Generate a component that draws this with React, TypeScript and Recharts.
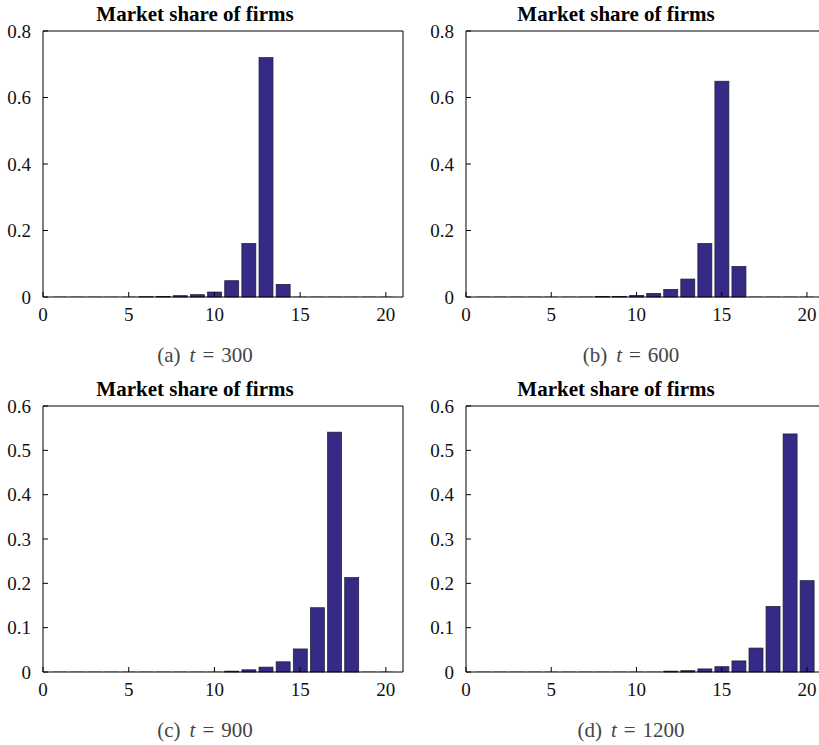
import React from "react";
import { BarChart, Bar, XAxis, YAxis } from "recharts";

// firm index 1..20
const firms = [1, 2, 3, 4, 5, 6, 7, 8, 9, 10, 11, 12, 13, 14, 15, 16, 17, 18, 19, 20];

// market share per firm
const shareT300 = [0.0001, 0.0002, 0.0003, 0.0004, 0.0005, 0.001, 0.002, 0.004, 0.007, 0.015, 0.049, 0.161, 0.72, 0.038, 0, 0, 0, 0, 0, 0];
const shareT600 = [0.0001, 0.0001, 0.0001, 0.0002, 0.0003, 0.0004, 0.0006, 0.002, 0.002, 0.005, 0.011, 0.023, 0.054, 0.161, 0.649, 0.092, 0, 0, 0, 0];
const shareT900 = [0, 0, 0, 0, 0, 0, 0, 0, 0, 0.0005, 0.002, 0.005, 0.011, 0.023, 0.052, 0.145, 0.541, 0.213, 0, 0];
const shareT1200 = [0, 0, 0, 0, 0, 0, 0, 0, 0, 0, 0, 0.002, 0.003, 0.007, 0.012, 0.025, 0.054, 0.148, 0.537, 0.206];

const xTicks = [0, 5, 10, 15, 20];
const yTicksTop = [0, 0.2, 0.4, 0.6, 0.8];
const yTicksBottom = [0, 0.1, 0.2, 0.3, 0.4, 0.5, 0.6];

const FONT = "'Liberation Serif', 'DejaVu Serif', serif";
const BAR_FILL = "#352A86";

function BarShape(props: any) {
  const { x, y, width, height } = props;
  if (!(height > 0.3)) {
    const base = y + (height || 0);
    return <line x1={x} x2={x + width} y1={base - 0.5} y2={base - 0.5} stroke="#c4c4c4" strokeWidth={1} />;
  }
  return <rect x={x} y={y} width={width} height={height} fill={BAR_FILL} stroke="#1d1d30" strokeWidth={0.7} />;
}

type PanelProps = {
  shares: number[];
  yMax: number;
  yTicks: number[];
  left: number;
  top: number;
  letter: string;
  time: string;
  rightMargin: number;
};

function Panel({ shares, yMax, yTicks, left, top, letter, time, rightMargin }: PanelProps) {
  const data = firms.map((f, i) => ({ firm: f, share: shares[i] }));
  const tickStyle = { fontFamily: FONT, fontSize: 19, fill: "#111" };
  const isRight = left > 0;
  return (
    <div style={{ position: "absolute", left, top, width: 410, height: 370 }}>
      <div
        style={{
          position: "absolute",
          left: isRight ? 43 : 45,
          top: 2,
          width: 300,
          textAlign: "center",
          fontFamily: FONT,
          fontWeight: "bold",
          fontSize: 21,
          color: "#000",
          lineHeight: "24px",
        }}
      >
        Market share of firms
      </div>
      <BarChart
        width={410}
        height={330}
        data={data}
        barCategoryGap="10%"
        margin={{ top: 30, right: rightMargin, left: 0, bottom: 0 }}
      >
        <XAxis
          dataKey="firm"
          type="number"
          domain={[0, 21]}
          ticks={xTicks}
          interval={0}
          height={33}
          tickSize={-5}
          tickMargin={16}
          tick={tickStyle}
          stroke="#000"
          axisLine={{ stroke: "#000" }}
          tickLine={{ stroke: "#000" }}
        />
        <XAxis
          xAxisId="top"
          orientation="top"
          dataKey="firm"
          type="number"
          domain={[0, 21]}
          ticks={xTicks}
          height={1}
          tickSize={-5}
          tick={false}
          axisLine={{ stroke: "#000" }}
          tickLine={{ stroke: "#000" }}
        />
        <YAxis
          type="number"
          domain={[0, yMax]}
          ticks={yTicks}
          interval={0}
          width={43}
          tickSize={-5}
          tickMargin={17}
          tick={tickStyle}
          tickFormatter={(v: number) => String(v)}
          axisLine={{ stroke: "#000" }}
          tickLine={{ stroke: "#000" }}
        />
        <YAxis
          yAxisId="right"
          orientation="right"
          type="number"
          domain={[0, yMax]}
          ticks={yTicks}
          width={1}
          tickSize={-5}
          tick={false}
          axisLine={{ stroke: "#000" }}
          tickLine={{ stroke: "#000" }}
        />
        <Bar dataKey="share" shape={BarShape} isAnimationActive={false} />
      </BarChart>
      <div
        style={{
          position: "absolute",
          left: isRight ? 108 : 105,
          top: 342,
          width: 200,
          textAlign: "center",
          fontFamily: FONT,
          fontSize: 21,
          color: "#444",
          lineHeight: "26px",
          whiteSpace: "nowrap",
        }}
      >
        ({letter})<i style={{ marginLeft: 9 }}>t</i>
        <span style={{ margin: "0 7px" }}>=</span>
        {time}
      </div>
    </div>
  );
}

export default function App() {
  return (
    <div
      style={{
        position: "absolute",
        left: 0,
        top: 0,
        width: 819,
        height: 745,
        overflow: "hidden",
        background: "#fff",
      }}
    >
      <Panel shares={shareT300} yMax={0.8} yTicks={yTicksTop} left={0} top={0} letter="a" time="300" rightMargin={6} />
      <Panel shares={shareT600} yMax={0.8} yTicks={yTicksTop} left={423} top={0} letter="b" time="600" rightMargin={8} />
      <Panel shares={shareT900} yMax={0.6} yTicks={yTicksBottom} left={0} top={375} letter="c" time="900" rightMargin={6} />
      <Panel shares={shareT1200} yMax={0.6} yTicks={yTicksBottom} left={423} top={375} letter="d" time="1200" rightMargin={8} />
    </div>
  );
}
